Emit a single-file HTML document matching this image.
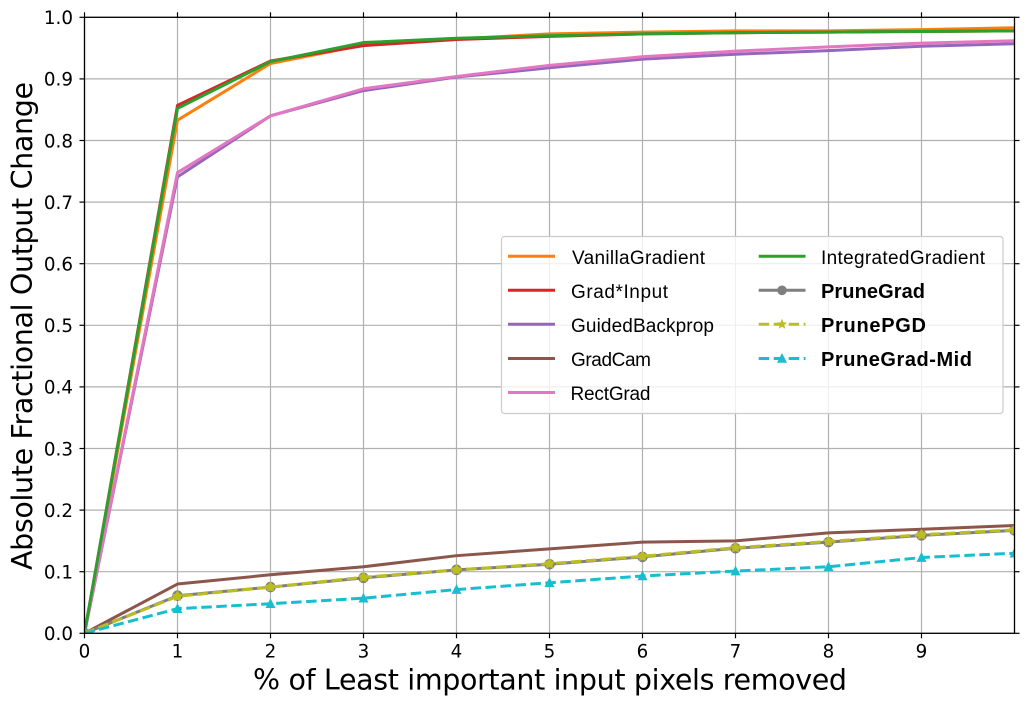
<!DOCTYPE html>
<html lang="en">
<head>
<meta charset="utf-8">
<title>Absolute Fractional Output Change</title>
<style>
html,body{margin:0;padding:0;background:#fff;width:1029px;height:705px;overflow:hidden}
svg{display:block}
.tick{font-family:"DejaVu Sans",sans-serif;font-size:18.3px;fill:#000}
.axis-title{font-family:"DejaVu Sans",sans-serif;font-size:28.5px;fill:#000}
.leg{font-family:"Liberation Sans",sans-serif;font-size:19px;fill:#000}
.legb{font-family:"Liberation Sans",sans-serif;font-size:20px;font-weight:bold;fill:#000}
</style>
</head>
<body>
<svg id="chart" xmlns="http://www.w3.org/2000/svg" width="1029" height="705" viewBox="0 0 1029 705">
  <defs>
    <clipPath id="plot-clip"><rect x="84.5" y="17.3" width="930" height="616"/></clipPath>
  </defs>
  <g id="grid"></g>
  <g id="series" clip-path="url(#plot-clip)"></g>
  <g id="axes"></g>
  <text class="axis-title" x="550" y="689.5" text-anchor="middle" textLength="594" lengthAdjust="spacing">% of Least important input pixels removed</text>
  <text class="axis-title" transform="translate(32,326) rotate(-90)" text-anchor="middle" textLength="488" lengthAdjust="spacing">Absolute Fractional Output Change</text>

  <g>
    <rect x="501.5" y="236.5" width="501.5" height="177" rx="3" fill="#fff" fill-opacity="0.8" stroke="#cccccc" stroke-width="1.2"/>
    <g>
      <line x1="508" x2="555" y1="256.3" y2="256.3" stroke="#ff7f0e" stroke-width="3"/>
      <text class="leg" x="572" y="264" textLength="133" lengthAdjust="spacing">VanillaGradient</text>
    </g>
    <g>
      <line x1="508" x2="555" y1="290.3" y2="290.3" stroke="#d62728" stroke-width="3"/>
      <text class="leg" x="571" y="298" textLength="97" lengthAdjust="spacing">Grad*Input</text>
    </g>
    <g>
      <line x1="508" x2="555" y1="324.3" y2="324.3" stroke="#9467bd" stroke-width="3"/>
      <text class="leg" x="571" y="332" textLength="143" lengthAdjust="spacing">GuidedBackprop</text>
    </g>
    <g>
      <line x1="508" x2="555" y1="358.5" y2="358.5" stroke="#8c564b" stroke-width="3"/>
      <text class="leg" x="571" y="366" textLength="80" lengthAdjust="spacing">GradCam</text>
    </g>
    <g>
      <line x1="508" x2="555" y1="392.5" y2="392.5" stroke="#e377c2" stroke-width="3"/>
      <text class="leg" x="570.5" y="400" textLength="80" lengthAdjust="spacing">RectGrad</text>
    </g>
    <g>
      <line x1="758.7" x2="805.5" y1="256.3" y2="256.3" stroke="#2ca02c" stroke-width="3"/>
      <text class="leg" x="821" y="264" textLength="164" lengthAdjust="spacing">IntegratedGradient</text>
    </g>
    <g>
      <line x1="758.7" x2="805.5" y1="290.3" y2="290.3" stroke="#7f7f7f" stroke-width="3"/>
      <circle cx="782" cy="290.3" r="4.8" fill="#7f7f7f"/>
      <text class="legb" x="821" y="298" textLength="104" lengthAdjust="spacing">PruneGrad</text>
    </g>
    <g>
      <line x1="758.7" x2="805.5" y1="324.3" y2="324.3" stroke="#bcbd22" stroke-width="3" stroke-dasharray="10.5 4.5"/>
      <polygon points="782,318.8 783.4,322.4 787.2,322.6 784.2,325 785.2,328.8 782,326.7 778.8,328.8 779.8,325 776.8,322.6 780.6,322.4" fill="#bcbd22"/>
      <text class="legb" x="821" y="332" textLength="105" lengthAdjust="spacing">PrunePGD</text>
    </g>
    <g>
      <line x1="758.7" x2="805.5" y1="358.5" y2="358.5" stroke="#17becf" stroke-width="3" stroke-dasharray="10.5 4.5"/>
      <polygon points="782,353 787,362.8 777,362.8" fill="#17becf"/>
      <text class="legb" x="821" y="366" textLength="151" lengthAdjust="spacing">PruneGrad-Mid</text>
    </g>
  </g>
</svg>
<script>
// Chart data
const percentRemoved = [0, 1, 2, 3, 4, 5, 6, 7, 8, 9, 10];
const xTickValues = [0, 1, 2, 3, 4, 5, 6, 7, 8, 9];
const yTickValues = [0.0, 0.1, 0.2, 0.3, 0.4, 0.5, 0.6, 0.7, 0.8, 0.9, 1.0];
const vanillaGradient = [0, 0.833, 0.925, 0.955, 0.965, 0.973, 0.976, 0.978, 0.978, 0.980, 0.983];
const gradInput = [0, 0.857, 0.929, 0.954, 0.964, 0.969, 0.973, 0.975, 0.976, 0.977, 0.978];
const guidedBackprop = [0, 0.741, 0.840, 0.881, 0.903, 0.918, 0.932, 0.940, 0.946, 0.953, 0.957];
const gradCam = [0, 0.080, 0.095, 0.108, 0.126, 0.137, 0.148, 0.150, 0.163, 0.169, 0.175];
const rectGrad = [0, 0.748, 0.840, 0.884, 0.904, 0.922, 0.936, 0.945, 0.952, 0.958, 0.962];
const integratedGradient = [0, 0.852, 0.928, 0.959, 0.966, 0.970, 0.973, 0.975, 0.976, 0.977, 0.978];
const pruneGrad = [0, 0.061, 0.075, 0.090, 0.103, 0.112, 0.124, 0.138, 0.148, 0.159, 0.167];
const prunePGD = [0, 0.060, 0.075, 0.091, 0.103, 0.113, 0.125, 0.139, 0.149, 0.160, 0.168];
const pruneGradMid = [0, 0.040, 0.048, 0.057, 0.071, 0.082, 0.093, 0.101, 0.108, 0.123, 0.130];

const NS = 'http://www.w3.org/2000/svg';
const plot = { left: 84.5, right: 1014.5, top: 17.3, bottom: 633.3 };
const xMin = 0, xMax = 10, yMin = 0, yMax = 1;
function xScale(v) { return plot.left + (v - xMin) / (xMax - xMin) * (plot.right - plot.left); }
function yScale(v) { return plot.bottom - (v - yMin) / (yMax - yMin) * (plot.bottom - plot.top); }

function make(tag, attrs, parent) {
  const el = document.createElementNS(NS, tag);
  for (const k in attrs) el.setAttribute(k, attrs[k]);
  parent.appendChild(el);
  return el;
}

const gridG = document.getElementById('grid');
const axesG = document.getElementById('axes');
const seriesG = document.getElementById('series');

function drawXTick(v) {
  const x = xScale(v);
  const g = make('line', { x1: x, x2: x, y1: plot.top, y2: plot.bottom, stroke: '#b0b0b0', 'stroke-width': 1.2 }, gridG);
  
  
  const t1 = make('line', { x1: x, x2: x, y1: plot.bottom, y2: plot.bottom + 5, stroke: '#000', 'stroke-width': 1.2 }, axesG);
  
  
  const t2 = make('line', { x1: x, x2: x, y1: plot.top - 5, y2: plot.top, stroke: '#000', 'stroke-width': 1.2 }, axesG);
  
  
  const label = make('text', { x: x, y: 657.7, 'text-anchor': 'middle', class: 'tick' }, axesG);
  
  
  label.textContent = String(v);
}

function drawYTick(v) {
  const y = yScale(v);
  const g = make('line', { x1: plot.left, x2: plot.right, y1: y, y2: y, stroke: '#b0b0b0', 'stroke-width': 1.2 }, gridG);
  
  
  const t1 = make('line', { x1: plot.left - 5, x2: plot.left, y1: y, y2: y, stroke: '#000', 'stroke-width': 1.2 }, axesG);
  
  
  const t2 = make('line', { x1: plot.right, x2: plot.right + 5, y1: y, y2: y, stroke: '#000', 'stroke-width': 1.2 }, axesG);
  
  
  const label = make('text', { x: 73, y: y + 6.8, 'text-anchor': 'end', class: 'tick' }, axesG);
  
  
  label.textContent = v.toFixed(1);
}

xTickValues.forEach(drawXTick);
yTickValues.forEach(drawYTick);

const frame = make('rect', { x: plot.left, y: plot.top, width: plot.right - plot.left, height: plot.bottom - plot.top, fill: 'none', stroke: '#000', 'stroke-width': 1.3 }, axesG);



function drawLine(values, color, name, dash) {
  const pts = values.map((v, i) => xScale(percentRemoved[i]) + ',' + yScale(v)).join(' ');
  const attrs = { points: pts, fill: 'none', stroke: color, 'stroke-width': 3, 'stroke-linejoin': 'round' };
  if (dash) attrs['stroke-dasharray'] = dash;
  const line = make('polyline', attrs, seriesG);
  
  
}

function starPoints(cx, cy, R) {
  const out = [];
  for (let i = 0; i < 10; i++) {
    const r = i % 2 === 0 ? R : R * 0.62;
    const a = -Math.PI / 2 + i * Math.PI / 5;
    out.push((cx + r * Math.cos(a)) + ',' + (cy + r * Math.sin(a)));
  }
  return out.join(' ');
}

function drawCircles(values, color) {
  values.forEach((v, i) => {
    const c = make('circle', { cx: xScale(percentRemoved[i]), cy: yScale(v), r: 5.3, fill: color }, seriesG);
    
    
  });
}
function drawStars(values, color) {
  values.forEach((v, i) => {
    const s = make('polygon', { points: starPoints(xScale(percentRemoved[i]), yScale(v), 5.6), fill: color }, seriesG);
    
    
  });
}
function drawTriangles(values, color) {
  values.forEach((v, i) => {
    const x = xScale(percentRemoved[i]), y = yScale(v);
    const t = make('polygon', { points: x + ',' + (y - 5.5) + ' ' + (x + 5) + ',' + (y + 4.3) + ' ' + (x - 5) + ',' + (y + 4.3), fill: color }, seriesG);
    
    
  });
}

drawLine(vanillaGradient, '#ff7f0e', 'vanillagradient-line');
drawLine(gradInput, '#d62728', 'grad-input-line');
drawLine(guidedBackprop, '#9467bd', 'guidedbackprop-line');
drawLine(gradCam, '#8c564b', 'gradcam-line');
drawLine(rectGrad, '#e377c2', 'rectgrad-line');
drawLine(integratedGradient, '#2ca02c', 'integratedgradient-line');
drawLine(pruneGrad, '#7f7f7f', 'prunegrad-line');
drawCircles(pruneGrad, '#7f7f7f');
drawLine(prunePGD, '#bcbd22', 'prunepgd-line', '10.5 4.5');
drawStars(prunePGD, '#bcbd22');
drawLine(pruneGradMid, '#17becf', 'prunegrad-mid-line', '10.5 4.5');
drawTriangles(pruneGradMid, '#17becf');
</script>
</body>
</html>
